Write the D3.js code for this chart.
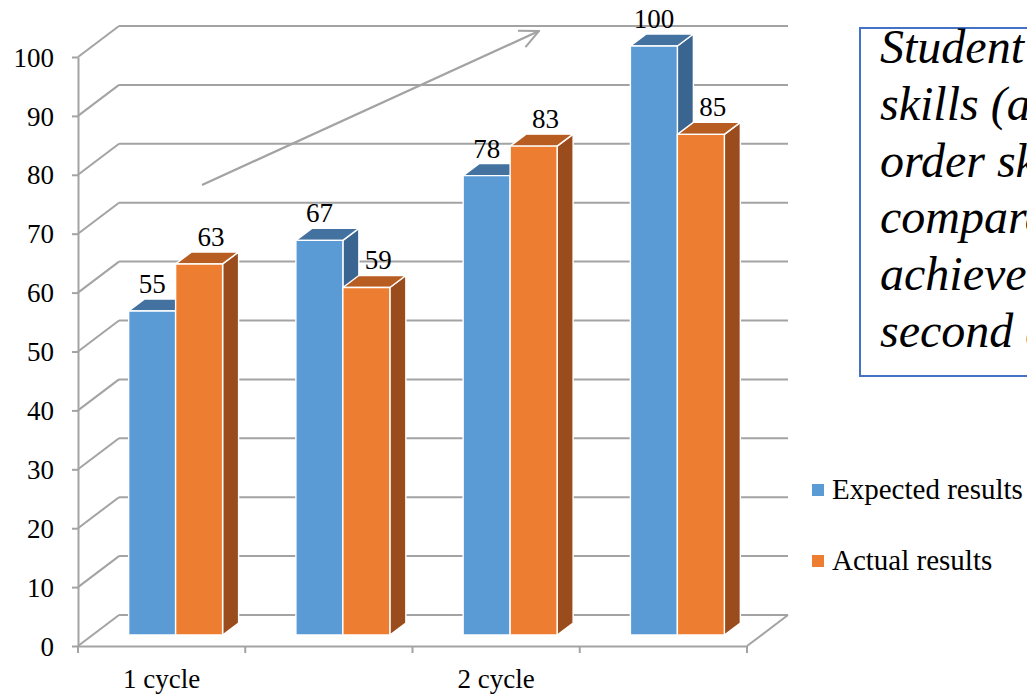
<!DOCTYPE html>
<html>
<head>
<meta charset="utf-8">
<script src="https://cdn.jsdelivr.net/npm/d3@7/dist/d3.min.js"></script>
<style>
  html, body { margin: 0; padding: 0; background: #fff; }
  svg { display: block; }
</style>
</head>
<body>
<svg id="chart" width="1027" height="695"></svg>
<script>
// ---- data ----
const slotLabels = ["1 cycle", "", "2 cycle", ""];
const seriesNames = ["Expected results", "Actual results"];
const expected = [55, 67, 78, 100];
const actual = [63, 59, 83, 85];
const yTicks = [0, 10, 20, 30, 40, 50, 60, 70, 80, 90, 100];
const noteLines = [
  "Student thinking",
  "skills (analysis and higher",
  "order skills) results",
  "compared to the planned",
  "achievements of the first and",
  "second action cycles"
];

// ---- styling ----
const palette = {
  "Expected results": { front: "#5B9BD5", top: "#4371A0", side: "#3A6590" },
  "Actual results":   { front: "#ED7D31", top: "#B75D22", side: "#9A4C1D" }
};
const gridColor = "#A3A3A3";
const fontSize = 27;
const serif = '"Liberation Serif", Tinos, "Times New Roman", "DejaVu Serif", serif';

// 3-D projection: shift of the back wall, and where the bars sit in depth
const wallDX = 41, wallDY = -31;
const barDX = 14, barDY = -11;     // bar front face offset
const depthDX = 16, depthDY = -12; // bar thickness

const svg = d3.select("#chart");

const slots = d3.range(slotLabels.length);
const x0 = d3.scaleBand().domain(slots).range([78, 747]).paddingInner(0).paddingOuter(0);
const x1 = d3.scaleBand().domain(seriesNames).range([0, x0.bandwidth()])
  .paddingInner(0).paddingOuter(0.78);
const y = d3.scaleLinear().domain([0, 100]).range([646, 57]);

const rows = slots.map(i => ({ slot: i, values: [expected[i], actual[i]] }));

// ---- walls and gridlines ----
const walls = svg.append("g").attr("stroke", gridColor).attr("stroke-width", 2).attr("fill", "none");
yTicks.forEach(v => {
  // side wall diagonal
  walls.append("line")
    .attr("x1", x0.range()[0]).attr("y1", y(v))
    .attr("x2", x0.range()[0] + wallDX).attr("y2", y(v) + wallDY);
  // back wall gridline
  walls.append("line")
    .attr("x1", x0.range()[0] + wallDX).attr("y1", y(v) + wallDY)
    .attr("x2", x0.range()[1] + wallDX).attr("y2", y(v) + wallDY);
});
// floor right edge
walls.append("line")
  .attr("x1", x0.range()[1]).attr("y1", y(0))
  .attr("x2", x0.range()[1] + wallDX).attr("y2", y(0) + wallDY);

// ---- trend arrow ----
svg.append("defs").append("marker")
  .attr("id", "openHead")
  .attr("viewBox", "0 0 22 22")
  .attr("refX", 21).attr("refY", 11)
  .attr("markerWidth", 22).attr("markerHeight", 22)
  .attr("markerUnits", "userSpaceOnUse")
  .attr("orient", "auto")
  .append("path")
  .attr("d", "M2,2 L21,11 L2,20")
  .attr("fill", "none").attr("stroke", gridColor).attr("stroke-width", 2);

svg.append("line")
  .attr("x1", 202).attr("y1", 185).attr("x2", 539).attr("y2", 31)
  .attr("stroke", gridColor).attr("stroke-width", 2.2)
  .attr("marker-end", "url(#openHead)");

// ---- y axis ----
const yAxis = svg.append("g")
  .attr("transform", `translate(${x0.range()[0]},0)`)
  .call(d3.axisLeft(y).tickValues(yTicks).tickSize(6).tickSizeOuter(0).tickPadding(18));
yAxis.attr("font-family", serif).attr("font-size", fontSize);
yAxis.select(".domain").attr("stroke", gridColor).attr("stroke-width", 2);
yAxis.selectAll(".tick line").attr("stroke", gridColor).attr("stroke-width", 2);
yAxis.selectAll(".tick text").attr("fill", "#000").attr("dy", "0.34em");

// ---- x axis (floor front edge, slot boundary ticks, labels) ----
const xAxis = svg.append("g").attr("transform", `translate(0,${y(0)})`)
  .call(d3.axisBottom(x0).tickSize(0).tickPadding(23).tickFormat(i => slotLabels[i]));
xAxis.attr("font-family", serif).attr("font-size", fontSize);
xAxis.select(".domain").attr("stroke", gridColor).attr("stroke-width", 2);
xAxis.selectAll(".tick text").attr("fill", "#000");
const edges = slots.map(i => x0(i)).concat([x0.range()[1]]);
xAxis.selectAll("line.edge").data(edges).enter().append("line")
  .attr("class", "edge")
  .attr("x1", d => d).attr("x2", d => d).attr("y1", 0).attr("y2", 7)
  .attr("stroke", gridColor).attr("stroke-width", 2);

// ---- 3-D bars ----
const barLayer = svg.append("g").attr("stroke", "#fff").attr("stroke-width", 1.4)
  .attr("stroke-linejoin", "round");
const bars = [];
rows.forEach(r => {
  seriesNames.forEach((s, k) => {
    const v = r.values[k];
    const xl = x0(r.slot) + x1(s) + barDX;
    const xr = xl + x1.bandwidth();
    const yt = y(v) + barDY;
    const yb = y(0) + barDY;
    bars.push({ s, v, xl, xr, yt });
    const c = palette[s];
    const g = barLayer.append("g");
    // side face
    g.append("path")
      .attr("d", `M${xr},${yt}L${xr + depthDX},${yt + depthDY}L${xr + depthDX},${yb + depthDY}L${xr},${yb}Z`)
      .attr("fill", c.side);
    // top face
    g.append("path")
      .attr("d", `M${xl},${yt}L${xl + depthDX},${yt + depthDY}L${xr + depthDX},${yt + depthDY}L${xr},${yt}Z`)
      .attr("fill", c.top);
    // front face
    g.append("rect")
      .attr("x", xl).attr("y", yt).attr("width", xr - xl).attr("height", yb - yt)
      .attr("fill", c.front);
  });
});

// ---- value labels ----
const labelShift = { "Expected results": 0, "Actual results": 12 };
svg.append("g").attr("font-family", serif).selectAll("text").data(bars).enter().append("text")
  .attr("x", d => (d.xl + d.xr) / 2 + labelShift[d.s])
  .attr("y", d => d.yt - 18)
  .attr("text-anchor", "middle")
  .attr("font-size", fontSize).attr("fill", "#000")
  .text(d => d.v);

// ---- legend ----
const legend = svg.append("g").attr("font-family", serif);
seriesNames.forEach((s, k) => {
  const ly = 499 + k * 71;
  legend.append("rect")
    .attr("x", 812).attr("y", ly - 15).attr("width", 12).attr("height", 12)
    .attr("fill", palette[s].front);
  legend.append("text")
    .attr("x", 832).attr("y", ly)
    .attr("font-size", 29).attr("fill", "#000")
    .text(s);
});

// ---- note box ----
const note = svg.append("g").attr("font-family", serif);
note.append("rect")
  .attr("x", 860).attr("y", 28).attr("width", 400).attr("height", 348)
  .attr("fill", "#fff").attr("stroke", "#4472C4").attr("stroke-width", 2);
note.append("text")
  .attr("font-size", 48).attr("font-style", "italic").attr("fill", "#000")
  .selectAll("tspan").data(noteLines).enter().append("tspan")
  .attr("x", 880).attr("y", (d, i) => 63 + i * 56.8)
  .text(d => d);
</script>
</body>
</html>
